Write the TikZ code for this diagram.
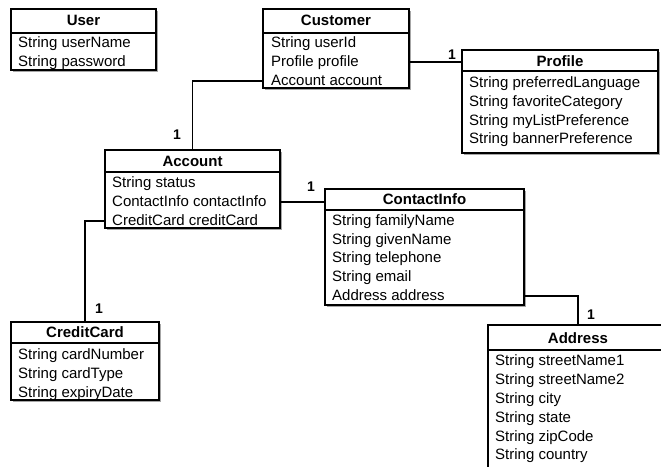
\documentclass[tikz,border=0pt]{standalone}
\usepackage{fontspec}
\setmainfont{Liberation Sans}
\usetikzlibrary{fit,shadows}
\tikzset{
  classbox/.style={draw, line width=1.8pt, fill=white, inner sep=0pt,
    drop shadow={shadow xshift=2pt, shadow yshift=-2pt, opacity=0.35, fill=black}},
  classtitle/.style={font=\fontsize{15}{18}\selectfont\bfseries, inner sep=0pt, anchor=center},
  attr/.style={font=\fontsize{15}{18}\selectfont, inner sep=0pt, anchor=west,
    text height=11pt, text depth=3pt},
  headsep/.style={line width=1.2pt},
  assoc/.style={line width=1.8pt},
  mult/.style={font=\fontsize{14}{16}\selectfont\bfseries, inner sep=0pt}
}
% class box: name, left, top, right, header separator, bottom, title x, title y, title
\newcommand\umlclass[9]{%
  \node[classbox, fit={(#2,#3) (#4,#6)}] (#1) {};
  \draw[headsep] (#2,#5) -- (#4,#5);
  \node[classtitle] (#1-title) at (#7,#8) {#9};
}
\begin{document}
\begin{tikzpicture}[x=1pt,y=-1pt]
\fill[white] (0,0) rectangle (661,466);
\useasboundingbox (0,0) rectangle (661,466);
\clip (0,0) rectangle (661,466);

% classes
\umlclass{user}{11}{9}{156}{33}{70}{83.5}{20}{User}
\node[attr] (user-r1) at (18,43) {String userName};
\node[attr] (user-r2) at (18,62) {String password};

\umlclass{customer}{263}{9}{409}{33}{88}{336}{20}{Customer}
\node[attr] (customer-r1) at (271,43) {String userId};
\node[attr] (customer-r2) at (271,62) {Profile profile};
\node[attr] (customer-r3) at (271,81) {Account account};

\umlclass{profile}{462}{50}{658}{71}{153}{560}{61}{Profile}
\node[attr] (profile-r1) at (469,83) {String preferredLanguage};
\node[attr] (profile-r2) at (469,102) {String favoriteCategory};
\node[attr] (profile-r3) at (469,121) {String myListPreference};
\node[attr] (profile-r4) at (469,139) {String bannerPreference};

\umlclass{account}{105}{150}{280}{172}{228}{192.5}{161}{Account}
\node[attr] (account-r1) at (112,183) {String status};
\node[attr] (account-r2) at (112,202) {ContactInfo contactInfo};
\node[attr] (account-r3) at (112,221) {CreditCard creditCard};

\umlclass{contact}{325}{189}{524}{210}{305}{424.5}{199}{ContactInfo}
\node[attr] (contact-r1) at (332,221) {String familyName};
\node[attr] (contact-r2) at (332,240) {String givenName};
\node[attr] (contact-r3) at (332,258) {String telephone};
\node[attr] (contact-r4) at (332,277) {String email};
\node[attr] (contact-r5) at (332,296) {Address address};

\umlclass{credit}{11}{322}{159}{343}{400}{85}{332}{CreditCard}
\node[attr] (credit-r1) at (18,355) {String cardNumber};
\node[attr] (credit-r2) at (18,374) {String cardType};
\node[attr] (credit-r3) at (18,393) {String expiryDate};

\umlclass{address}{488}{325}{668}{350}{472}{578}{338}{Address}
\node[attr] (address-r1) at (495,361) {String streetName1};
\node[attr] (address-r2) at (495,380) {String streetName2};
\node[attr] (address-r3) at (495,399) {String city};
\node[attr] (address-r4) at (495,418) {String state};
\node[attr] (address-r5) at (495,437) {String zipCode};
\node[attr] (address-r6) at (495,455) {String country};

% associations
\draw[assoc] (customer.east |- customer-r2) -- (profile.west |- customer-r2);
\draw[assoc] (customer.west |- customer-r3) -| (account.north);
\draw[assoc] (account.east |- account-r2) -- (contact.west |- account-r2);
\draw[assoc] (account.west |- account-r3) -| (credit.north);
\draw[assoc] (contact.east |- contact-r5) -| (address.north);

% multiplicities
\node[mult] (m-profile) at (452,55) {1};
\node[mult] (m-account) at (177,135) {1};
\node[mult] (m-contact) at (311,187) {1};
\node[mult] (m-credit) at (99,309) {1};
\node[mult] (m-address) at (591,315) {1};
\end{tikzpicture}
\end{document}
